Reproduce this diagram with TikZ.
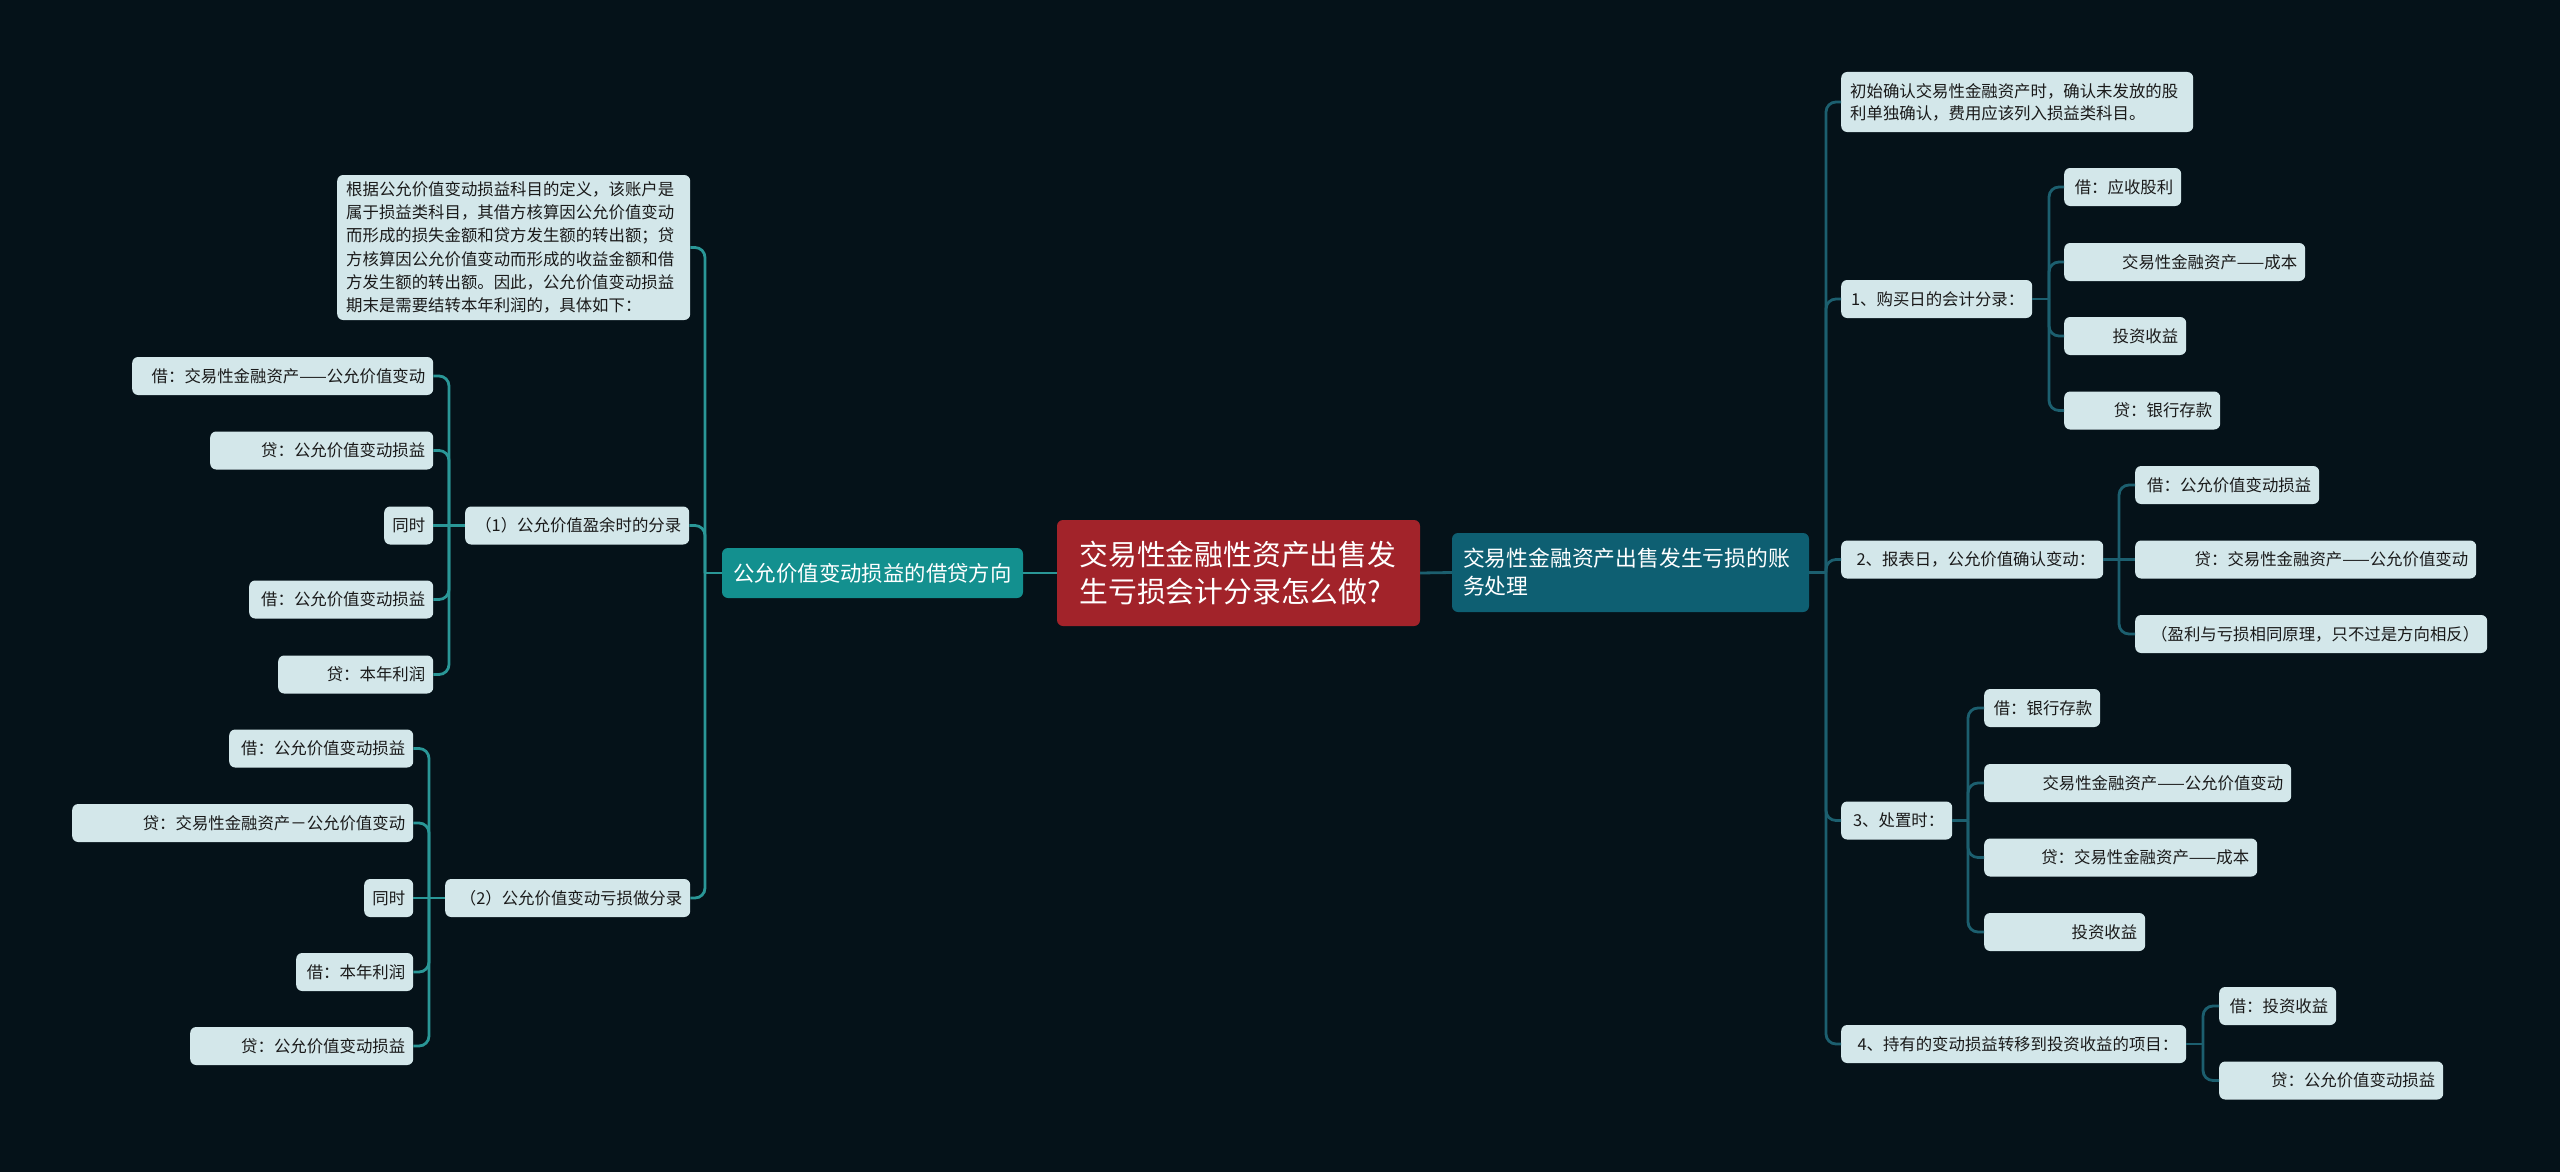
\documentclass[tikz,border=0pt]{standalone}
\usepackage{fontspec}
\setmainfont{Noto Sans CJK SC}
\newfontfamily\cjk{Noto Sans CJK SC}
\definecolor{bgc}{HTML}{051219}
\definecolor{leaffill}{HTML}{D3E7EA}
\definecolor{leaftext}{HTML}{1A1A1A}
\definecolor{lline}{HTML}{2A9797}
\definecolor{rline}{HTML}{1C5F6F}
\definecolor{lfill}{HTML}{13908F}
\definecolor{cfill}{HTML}{A2232A}
\definecolor{rfill}{HTML}{0E5F72}
\begin{document}
\begin{tikzpicture}[x=1pt,y=-1pt,
  leaf/.style={rectangle, rounded corners=6pt, fill=leaffill, text=leaftext,
    font=\cjk\fontsize{16.4}{23}\selectfont, inner xsep=8pt, inner ysep=0pt,
    anchor=west, align=right, minimum height=38pt},
  para/.style={leaf, align=left, inner xsep=9pt},
  mainbox/.style={rectangle, rounded corners=6pt, text=white, inner ysep=0pt},
  lconn/.style={draw=lline, line width=2.8pt, rounded corners=10pt},
  rconn/.style={draw=rline, line width=2.8pt, rounded corners=10pt}]
\fill[bgc] (0,0) rectangle (2560,1172);
\useasboundingbox (0,0) rectangle (2560,1172);

% ---------- central nodes ----------
\node[mainbox, fill=cfill, minimum width=363pt, minimum height=106pt, text width=318pt,
  inner xsep=22.5pt, align=left, font=\cjk\fontsize{28.8}{37}\selectfont] (C) at (1238.5,573)
  {交易性金融性资产出售发\\生亏损会计分录怎么做?};
\node[mainbox, fill=lfill, minimum width=301pt, minimum height=50pt, inner xsep=10pt,
  font=\cjk\fontsize{21.4}{26}\selectfont] (L) at (872.5,573) {公允价值变动损益的借贷方向};
\node[mainbox, fill=rfill, minimum width=357pt, minimum height=79pt, text width=335pt,
  inner xsep=11pt, align=left, font=\cjk\fontsize{21.8}{28}\selectfont] (R) at (1630.5,572.5)
  {交易性金融资产出售发生亏损的账\\务处理};

% ---------- left side ----------
\node[para, text width=335pt, minimum height=145pt, font=\cjk\fontsize{16.4}{23.3}\selectfont] (T0) at (337,247.5)
  {根据公允价值变动损益科目的定义，该账户是\\属于损益类科目，其借方核算因公允价值变动\\而形成的损失金额和贷方发生额的转出额；贷\\方核算因公允价值变动而形成的收益金额和借\\方发生额的转出额。因此，公允价值变动损益\\期末是需要结转本年利润的，具体如下：};
\node[leaf, text width=208pt] (P1) at (465,525.5) {（1）公允价值盈余时的分录};
\node[leaf, text width=229pt] (P2) at (445,898) {（2）公允价值变动亏损做分录};

\node[leaf, text width=285pt] (A1) at (132,376) {借：交易性金融资产——公允价值变动};
\node[leaf, text width=207pt] (A2) at (210,450.5) {贷：公允价值变动损益};
\node[leaf, text width=33pt] (A3) at (384,525.5) {同时};
\node[leaf, text width=168pt] (A4) at (249,599.5) {借：公允价值变动损益};
\node[leaf, text width=139pt] (A5) at (278,674.5) {贷：本年利润};

\node[leaf, text width=168pt] (B1) at (229,748.5) {借：公允价值变动损益};
\node[leaf, text width=325pt] (B2) at (72,823) {贷：交易性金融资产－公允价值变动};
\node[leaf, text width=33pt] (B3) at (364,898) {同时};
\node[leaf, text width=101pt] (B4) at (296,972) {借：本年利润};
\node[leaf, text width=207pt] (B5) at (190,1046) {贷：公允价值变动损益};

% ---------- right side ----------
\node[para, text width=334pt, minimum height=60pt, font=\cjk\fontsize{16.4}{22}\selectfont] (R0) at (1841,102)
  {初始确认交易性金融资产时，确认未发放的股\\利单独确认，费用应该列入损益类科目。};
\node[leaf, text width=175pt] (R1) at (1841,299) {1、购买日的会计分录：};
\node[leaf, text width=101pt] (R1a) at (2064,187) {借：应收股利};
\node[leaf, text width=225pt] (R1b) at (2064,262) {交易性金融资产——成本};
\node[leaf, text width=106pt] (R1c) at (2064,336) {投资收益};
\node[leaf, text width=140pt] (R1d) at (2064,410.5) {贷：银行存款};

\node[leaf, text width=246pt] (R2) at (1841,559.5) {2、报表日，公允价值确认变动：};
\node[leaf, text width=168pt] (R2a) at (2135,485) {借：公允价值变动损益};
\node[leaf, text width=325pt] (R2b) at (2135,559.5) {贷：交易性金融资产——公允价值变动};
\node[leaf, text width=336pt] (R2c) at (2135,634) {（盈利与亏损相同原理，只不过是方向相反）};

\node[leaf, text width=95pt] (R3) at (1841,820.5) {3、处置时：};
\node[leaf, text width=100pt] (R3a) at (1984,708) {借：银行存款};
\node[leaf, text width=291pt] (R3b) at (1984,783) {交易性金融资产——公允价值变动};
\node[leaf, text width=257pt] (R3c) at (1984,857.5) {贷：交易性金融资产——成本};
\node[leaf, text width=145pt] (R3d) at (1984,932) {投资收益};

\node[leaf, text width=329pt] (R4) at (1841,1044) {4、持有的变动损益转移到投资收益的项目：};
\node[leaf, text width=101pt] (R4a) at (2219,1006) {借：投资收益};
\node[leaf, text width=208pt] (R4b) at (2219,1080.5) {贷：公允价值变动损益};

% ---------- connectors ----------
\draw[lconn] (C.west) -- (L.east);
\draw[rconn] (C.east) -- (R.west);

\coordinate (lm) at (705,573);
\draw[lconn] (L.west) -- (lm);
\foreach \n in {T0,P1,P2} \draw[lconn] (lm) |- (\n.east);

\coordinate (pa) at (449,525.5);
\draw[lconn] (P1.west) -- (pa) -- (A3.east);
\foreach \n in {A1,A2,A4,A5} \draw[lconn] (pa) |- (\n.east);

\coordinate (pb) at (429,898);
\draw[lconn] (P2.west) -- (pb) -- (B3.east);
\foreach \n in {B1,B2,B4,B5} \draw[lconn] (pb) |- (\n.east);

\coordinate (rm) at (1826,572.5);
\draw[rconn] (R.east) -- (rm);
\foreach \n in {R0,R1,R2,R3,R4} \draw[rconn] (rm) |- (\n.west);

\coordinate (q1) at (2049,299);
\draw[rconn] (R1.east) -- (q1);
\foreach \n in {R1a,R1b,R1c,R1d} \draw[rconn] (q1) |- (\n.west);

\coordinate (q2) at (2119,559.5);
\draw[rconn] (R2.east) -- (q2) -- (R2b.west);
\foreach \n in {R2a,R2c} \draw[rconn] (q2) |- (\n.west);

\coordinate (q3) at (1968,820.5);
\draw[rconn] (R3.east) -- (q3);
\foreach \n in {R3a,R3b,R3c,R3d} \draw[rconn] (q3) |- (\n.west);

\coordinate (q4) at (2203,1044);
\draw[rconn] (R4.east) -- (q4);
\foreach \n in {R4a,R4b} \draw[rconn] (q4) |- (\n.west);
\end{tikzpicture}
\end{document}
